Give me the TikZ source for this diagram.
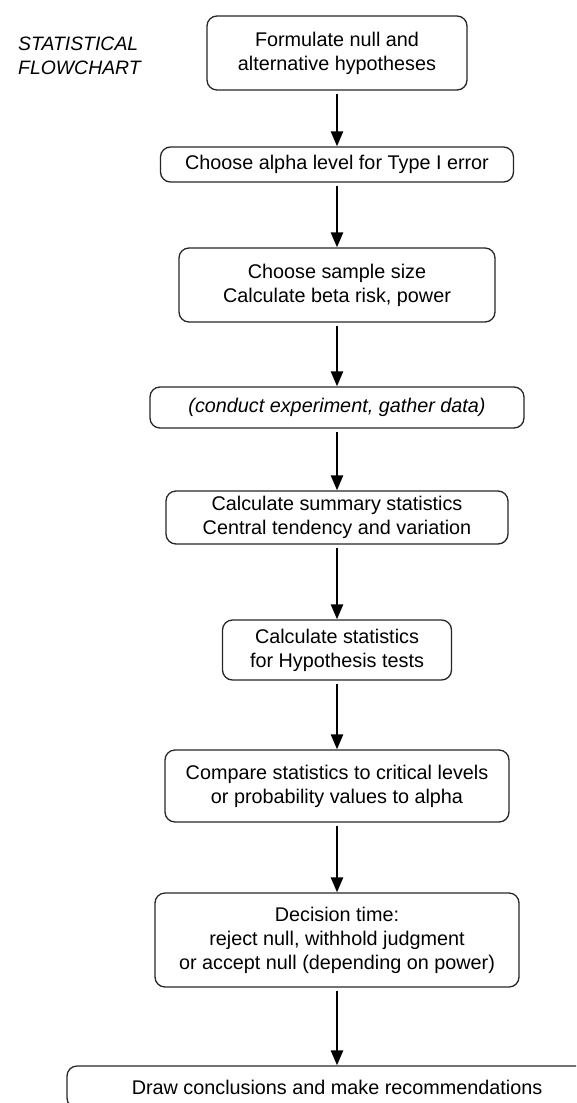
\documentclass[tikz,border=0pt]{standalone}
\usepackage{fontspec}
\setmainfont{Liberation Sans}
\usetikzlibrary{
    arrows.meta,
    positioning
}

\begin{document}
\begin{tikzpicture}[x=1pt, y=-1pt,
        flowbox/.style={draw=black!85, line width=1.3pt, rounded corners=10pt, align=center,
            inner sep=0pt, font=\fontsize{19.8}{24}\selectfont},
        flowarrow/.style={-{Triangle[length=15pt, width=12pt]}, line width=2.5pt, shorten <=3pt}]
                        \useasboundingbox (0, 0) rectangle (576, 1103);
                        \clip (0, 0) rectangle (576, 1103);

                        \node[anchor=west, align=left, inner sep=0pt, font=\itshape\fontsize{19.4}{24}\selectfont] (title) at (18, 56) {STATISTICAL\\FLOWCHART};

                        \node[flowbox, minimum width=260pt, minimum height=74pt] (formulate) at (337, 53) {Formulate null and\\alternative hypotheses};
                        \node[flowbox, minimum width=353pt, minimum height=35pt] (alpha) at (337, 164.5) {Choose alpha level for Type I error};
                        \node[flowbox, minimum width=316pt, minimum height=74pt] (sample) at (337, 285) {Choose sample size\\Calculate beta risk, power};
                        \node[flowbox, minimum width=374pt, minimum height=41pt, font=\itshape\fontsize{19.8}{24}\selectfont] (experiment) at (337, 407.5) {(conduct experiment, gather data)};
                        \node[flowbox, minimum width=342pt, minimum height=53pt] (summary) at (337, 517.5) {Calculate summary statistics\\Central tendency and variation};
                        \node[flowbox, minimum width=229pt, minimum height=60pt] (hyptest) at (337, 650) {Calculate statistics\\for Hypothesis tests};
                        \node[flowbox, minimum width=344pt, minimum height=72pt] (compare) at (337, 786) {Compare statistics to critical levels\\or probability values to alpha};
                        \node[flowbox, minimum width=364pt, minimum height=94pt] (decision) at (337, 940) {Decision time:\\reject null, withhold judgment\\or accept null (depending on power)};
                        \node[flowbox, minimum width=540pt, minimum height=42pt] (conclude) at (337, 1087) {Draw conclusions and make recommendations};

                        \draw
                        (formulate) edge[flowarrow] (alpha)
                        (alpha) edge[flowarrow] (sample)
                        (sample) edge[flowarrow] (experiment)
                        (experiment) edge[flowarrow] (summary)
                        (summary) edge[flowarrow] (hyptest)
                        (hyptest) edge[flowarrow] (compare)
                        (compare) edge[flowarrow] (decision)
                        (decision) edge[flowarrow] (conclude);
                    \end{tikzpicture}
\end{document}
